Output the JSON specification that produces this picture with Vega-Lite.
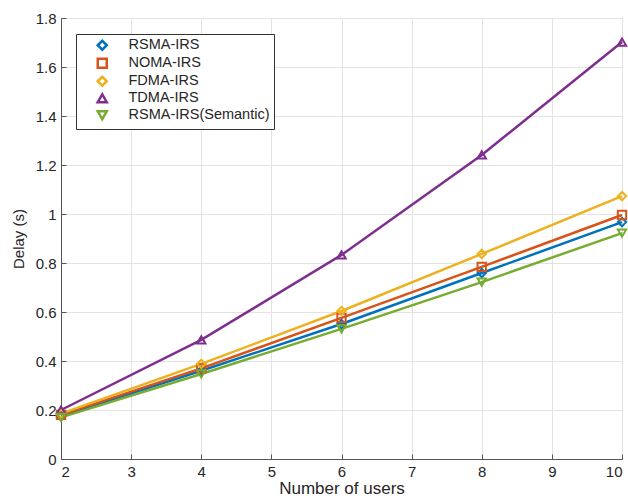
{
  "$schema": "https://vega.github.io/schema/vega-lite/v6.json",
  "width": 561,
  "height": 441,
  "autosize": {"type": "none"},
  "padding": {"left": 61, "top": 18, "right": 6, "bottom": 43},
  "background": "white",
  "config": {
    "font": "Liberation Sans",
    "view": {"stroke": "#555555", "strokeWidth": 1},
    "axis": {
      "labelFontSize": 15,
      "titleFontSize": 15,
      "labelColor": "#262626",
      "titleColor": "#262626",
      "titleFontWeight": "normal",
      "gridColor": "#e3e3e3",
      "domainColor": "#555555",
      "tickColor": "#555555",
      "tickSize": -5,
      "labelPadding": 10
    },
    "legend": {
      "orient": "none",
      "legendX": 15,
      "legendY": 16,
      "strokeColor": "#333333",
      "fillColor": "white",
      "padding": 4,
      "rowPadding": -2,
      "labelFontSize": 14.5,
      "labelColor": "#262626",
      "symbolSize": 81,
      "symbolStrokeWidth": 2.5,
      "symbolOffset": 15,
      "labelOffset": 19,
      "labelLimit": 300
    }
  },
  "data": {
    "values": [
      {"users": 2, "delay": 0.175, "scheme": "RSMA-IRS"},
      {"users": 4, "delay": 0.36, "scheme": "RSMA-IRS"},
      {"users": 6, "delay": 0.551, "scheme": "RSMA-IRS"},
      {"users": 8, "delay": 0.759, "scheme": "RSMA-IRS"},
      {"users": 10, "delay": 0.967, "scheme": "RSMA-IRS"},
      {"users": 2, "delay": 0.18, "scheme": "NOMA-IRS"},
      {"users": 4, "delay": 0.37, "scheme": "NOMA-IRS"},
      {"users": 6, "delay": 0.576, "scheme": "NOMA-IRS"},
      {"users": 8, "delay": 0.784, "scheme": "NOMA-IRS"},
      {"users": 10, "delay": 0.996, "scheme": "NOMA-IRS"},
      {"users": 2, "delay": 0.185, "scheme": "FDMA-IRS"},
      {"users": 4, "delay": 0.388, "scheme": "FDMA-IRS"},
      {"users": 6, "delay": 0.604, "scheme": "FDMA-IRS"},
      {"users": 8, "delay": 0.837, "scheme": "FDMA-IRS"},
      {"users": 10, "delay": 1.073, "scheme": "FDMA-IRS"},
      {"users": 2, "delay": 0.2, "scheme": "TDMA-IRS"},
      {"users": 4, "delay": 0.486, "scheme": "TDMA-IRS"},
      {"users": 6, "delay": 0.833, "scheme": "TDMA-IRS"},
      {"users": 8, "delay": 1.241, "scheme": "TDMA-IRS"},
      {"users": 10, "delay": 1.702, "scheme": "TDMA-IRS"},
      {"users": 2, "delay": 0.17, "scheme": "RSMA-IRS(Semantic)"},
      {"users": 4, "delay": 0.347, "scheme": "RSMA-IRS(Semantic)"},
      {"users": 6, "delay": 0.531, "scheme": "RSMA-IRS(Semantic)"},
      {"users": 8, "delay": 0.722, "scheme": "RSMA-IRS(Semantic)"},
      {"users": 10, "delay": 0.922, "scheme": "RSMA-IRS(Semantic)"}
    ]
  },
  "encoding": {
    "x": {
      "field": "users",
      "type": "quantitative",
      "scale": {"domain": [2, 10], "nice": false},
      "axis": {"values": [2, 3, 4, 5, 6, 7, 8, 9, 10], "title": "Number of users", "titlePadding": 1, "titleFontSize": 17}
    },
    "y": {
      "field": "delay",
      "type": "quantitative",
      "scale": {"domain": [0, 1.8], "nice": false},
      "axis": {"values": [0, 0.2, 0.4, 0.6, 0.8, 1, 1.2, 1.4, 1.6, 1.8], "format": "~g", "title": "Delay (s)", "titlePadding": 9}
    },
    "color": {
      "field": "scheme",
      "type": "nominal",
      "scale": {
        "domain": ["RSMA-IRS", "NOMA-IRS", "FDMA-IRS", "TDMA-IRS", "RSMA-IRS(Semantic)"],
        "range": ["#0072BD", "#D95319", "#EDB120", "#7E2F8E", "#77AC30"]
      },
      "legend": {"title": null}
    }
  },
  "layer": [
    {
      "mark": {"type": "line", "strokeWidth": 2.5}
    },
    {
      "mark": {"type": "point", "filled": false, "strokeWidth": 2, "size": 70, "opacity": 1},
      "encoding": {
        "shape": {
          "field": "scheme",
          "type": "nominal",
          "scale": {
            "domain": ["RSMA-IRS", "NOMA-IRS", "FDMA-IRS", "TDMA-IRS", "RSMA-IRS(Semantic)"],
            "range": ["diamond", "square", "diamond", "triangle-up", "triangle-down"]
          },
          "legend": null
        }
      }
    }
  ]
}
